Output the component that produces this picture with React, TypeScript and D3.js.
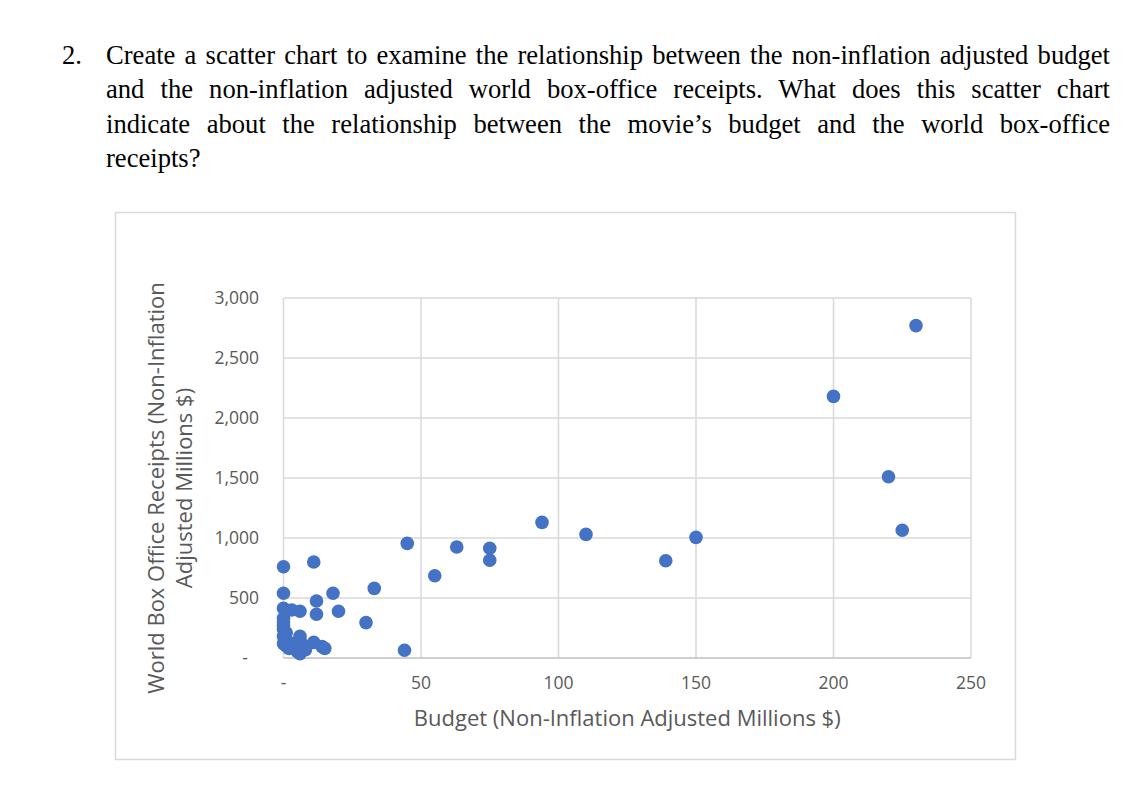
import { useLayoutEffect, useRef } from "react";
import * as d3 from "d3";

const QUESTION_NUMBER = "2.";
const QUESTION_LINES = [
  "Create a scatter chart to examine the relationship between the non-inflation adjusted budget",
  "and the non-inflation adjusted world box-office receipts. What does this scatter chart",
  "indicate about the relationship between the movie’s budget and the world box-office",
  "receipts?",
];

const X_TITLE = "Budget (Non-Inflation Adjusted Millions $)";
const Y_TITLE_LINES = ["World Box Office Receipts (Non-Inflation", "Adjusted Millions $)"];

const X_TICKS = [0, 50, 100, 150, 200, 250];
const Y_TICKS = [0, 500, 1000, 1500, 2000, 2500, 3000];

// budget (millions $)
const budgets = [
  230, 200, 220, 225, 150, 139, 110, 94, 75, 75, 63, 55, 45, 44, 33, 30, 20, 18, 12, 12, 11,
  0, 0, 0, 3, 6,
  0, 0, 0, 0, 1, 0, 1, 0, 1, 2, 6, 6, 5, 7, 11, 14, 15, 5, 6, 8, 3,
];
// world box office (millions $)
const receipts = [
  2770, 2180, 1510, 1065, 1005, 810, 1030, 1130, 915, 815, 925, 685, 955, 65, 580, 295, 390, 540, 475, 365, 800,
  760, 540, 415, 400, 390,
  330, 300, 270, 240, 210, 180, 150, 120, 100, 80, 180, 150, 130, 110, 130, 95, 80, 55, 35, 70, 120,
];

const GRID = "#d9d9d9";
const AXIS_TEXT = "#595959";
const DOT = "#4472c4";
const CHART_FONT = "'Open Sans', sans-serif";

function JustifiedLine({ text, x, y, width, justify }: { text: string; x: number; y: number; width: number; justify: boolean }) {
  const ref = useRef<SVGTextElement>(null);
  useLayoutEffect(() => {
    const node = ref.current;
    if (!node || !justify) return;
    node.setAttribute("word-spacing", "0");
    const natural = node.getComputedTextLength();
    const spaces = text.split(" ").length - 1;
    if (spaces > 0) node.setAttribute("word-spacing", String(Math.max(0, (width - natural) / spaces)));
  }, [text, width, justify]);
  return (
    <text ref={ref} x={x} y={y}>
      {text}
    </text>
  );
}

export default function App() {
  const plot = { left: 283.5, right: 971, top: 298, bottom: 658 };
  const x = d3.scaleLinear().domain([0, 250]).range([plot.left, plot.right]);
  const y = d3.scaleLinear().domain([0, 3000]).range([plot.bottom, plot.top]);
  const yFormat = (v: number) => (v === 0 ? "-" : d3.format(",")(v));

  return (
    <div style={{ position: "fixed", inset: 0, background: "#fff" }}>
      <svg width={1140} height={797} style={{ display: "block" }}>
        <g fontFamily="'Liberation Serif', 'Times New Roman', serif" fontSize={26.6} fill="#000">
          <text x={62} y={64}>{QUESTION_NUMBER}</text>
          {QUESTION_LINES.map((line, i) => (
            <JustifiedLine
              key={i}
              text={line}
              x={106}
              y={64 + i * 34.3}
              width={1004}
              justify={i < QUESTION_LINES.length - 1}
            />
          ))}
        </g>

        <rect x={115.5} y={212.5} width={900} height={547} fill="#fff" stroke={GRID} strokeWidth={1.5} />

        <g stroke={GRID} strokeWidth={1.5}>
          {Y_TICKS.filter((t) => t > 0).map((t) => (
            <line key={`gy${t}`} x1={plot.left} x2={plot.right} y1={y(t)} y2={y(t)} />
          ))}
          {X_TICKS.map((t) => (
            <line key={`gx${t}`} x1={x(t)} x2={x(t)} y1={plot.top} y2={plot.bottom} />
          ))}
        </g>
        <line x1={plot.left} x2={plot.right} y1={y(0)} y2={y(0)} stroke="#bfbfbf" strokeWidth={1.5} />

        <g fontFamily={CHART_FONT} fontSize={17.5} fill={AXIS_TEXT}>
          {Y_TICKS.map((t) => (
            <text
              key={`ly${t}`}
              x={t === 0 ? 248 : 259}
              y={y(t)}
              dy="0.35em"
              textAnchor="end"
            >
              {yFormat(t)}
            </text>
          ))}
          {X_TICKS.map((t) => (
            <text key={`lx${t}`} x={x(t)} y={y(0) + 31} textAnchor="middle">
              {t === 0 ? "-" : String(t)}
            </text>
          ))}
        </g>

        <g fontFamily={CHART_FONT} fontSize={22} fill={AXIS_TEXT}>
          <text x={(plot.left + plot.right) / 2} y={726} textAnchor="middle">
            {X_TITLE}
          </text>
          <g transform="translate(156,488) rotate(-90)">
            {Y_TITLE_LINES.map((line, i) => (
              <text key={i} x={0} y={i * 28} dy="0.35em" textAnchor="middle">
                {line}
              </text>
            ))}
          </g>
        </g>

        <g fill={DOT}>
          {budgets.map((b, i) => (
            <circle key={i} cx={x(b)} cy={y(receipts[i])} r={6.8} />
          ))}
        </g>
      </svg>
    </div>
  );
}
